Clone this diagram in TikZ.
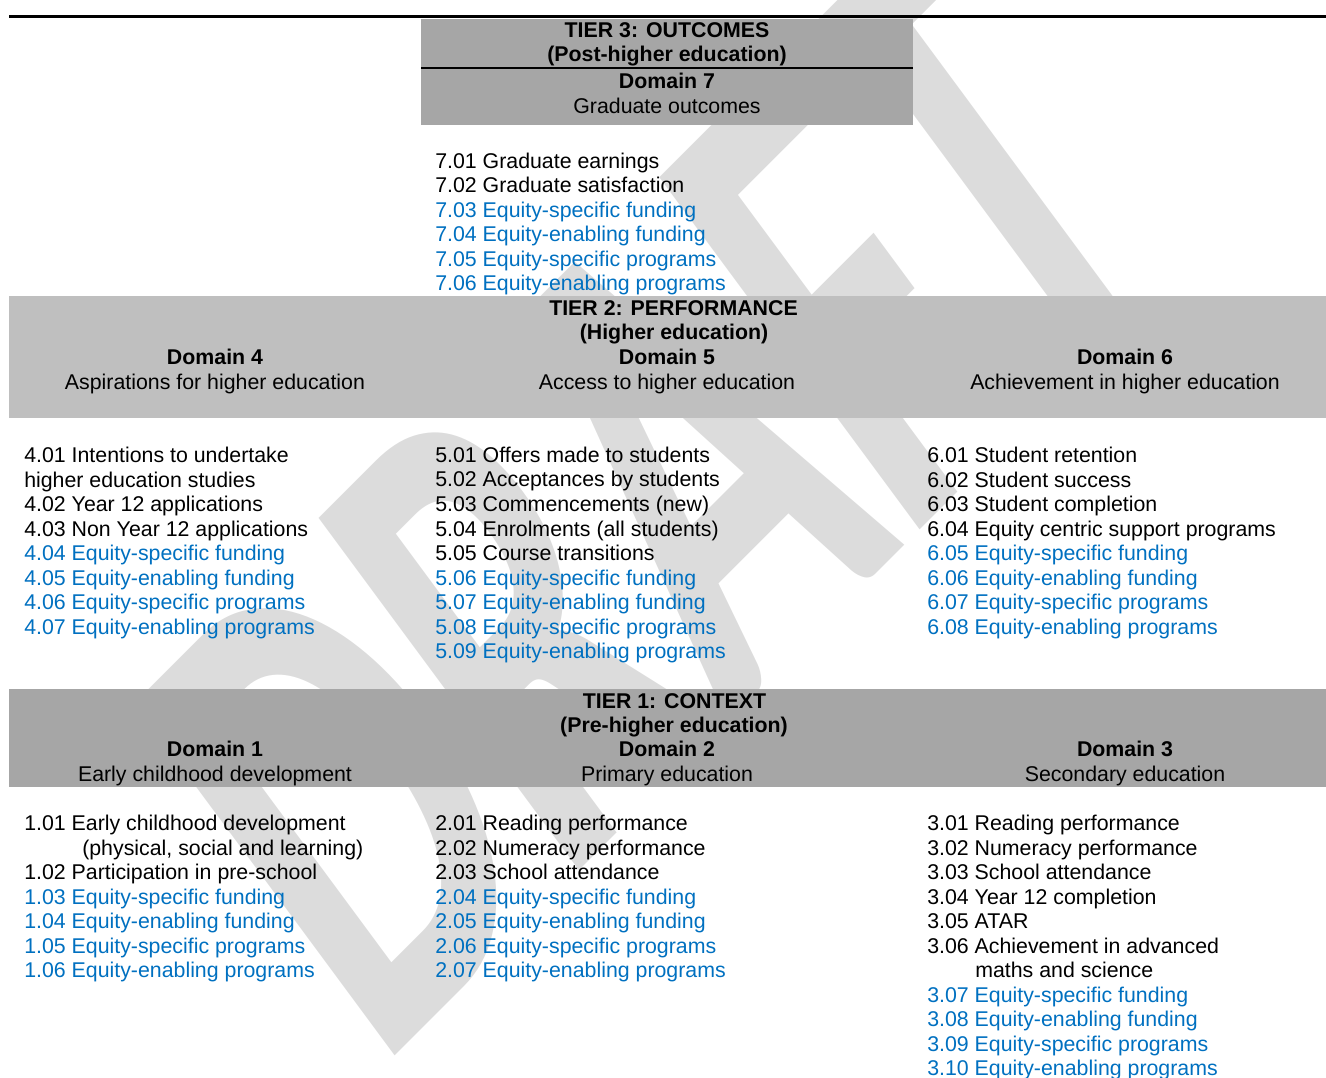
\documentclass[tikz,border=0pt]{standalone}
\usepackage{fontspec}
\setmainfont{Liberation Sans}
\newfontfamily\wmfont{Carlito}
\usetikzlibrary{positioning}
\definecolor{tierdark}{HTML}{A6A6A6}
\definecolor{tierlight}{HTML}{BFBFBF}
\definecolor{eqblue}{HTML}{0070C0}
\definecolor{wmgray}{HTML}{DCDCDC}
\tikzset{
tierbox/.style={fill=#1, draw=none},
tierhead/.style={font=\fontsize{16}{18.4}\selectfont\bfseries, anchor=base, inner sep=0pt},
domtitle/.style={align=center, anchor=base, inner sep=0pt},
itemlist/.style={align=left, anchor=base west, inner sep=0pt},
watermark/.style={text=wmgray, inner sep=0pt, font=\wmfont\bfseries\fontsize{501}{501}\selectfont},
}
\newcommand{\eqitem}[1]{\textcolor{eqblue}{#1}}

\begin{document}
\begin{tikzpicture}[x=0.75pt, y=-0.75pt, font=\fontsize{16}{18.4}\selectfont]
    \useasboundingbox (0,0) rectangle (1326,1077);
    % watermark behind everything
    \node[watermark, rotate=45, xslant=0.15, xscale=0.62] (draft) at (651,493) {DRAFT};

    % tier bands
    \fill[tierbox=tierdark] (421,19) rectangle (913,125);
    \fill[tierbox=tierlight] (9,296) rectangle (1326,418);
    \fill[tierbox=tierdark] (9,689) rectangle (1326,787);
    \draw[line width=2.25pt] (9,17) -- (1326,17);
    \draw[line width=2pt] (421,68) -- (913,68);

    % tier 3 (multi-line nodes sit on their last baseline)
    \node[tierhead] (t3) at (667,37.5) {TIER 3: OUTCOMES};
    \node[tierhead] (t3sub) at (667,61.5) {(Post-higher education)};
    \node[domtitle] (d7) at (667,113.5) {\textbf{Domain 7}\\Graduate outcomes};
    \node[itemlist] (l7) at (435,290.8) {7.01 Graduate earnings\\
        7.02 Graduate satisfaction\\
        \eqitem{7.03 Equity-specific funding}\\
        \eqitem{7.04 Equity-enabling funding}\\
        \eqitem{7.05 Equity-specific programs}\\
        \eqitem{7.06 Equity-enabling programs}};

    % tier 2
    \node[tierhead] (t2) at (673.5,315.5) {TIER 2: PERFORMANCE};
    \node[tierhead] (t2sub) at (674,339.5) {(Higher education)};
    \node[domtitle] (d4) at (215,389.5) {\textbf{Domain 4}\\Aspirations for higher education};
    \node[domtitle] (d5) at (667,389.5) {\textbf{Domain 5}\\Access to higher education};
    \node[domtitle] (d6) at (1125,389.5) {\textbf{Domain 6}\\Achievement in higher education};
    \node[itemlist] (l4) at (24,634.2) {4.01 Intentions to undertake\\
        higher education studies\\
        4.02 Year 12 applications\\
        4.03 Non Year 12 applications\\
        \eqitem{4.04 Equity-specific funding}\\
        \eqitem{4.05 Equity-enabling funding}\\
        \eqitem{4.06 Equity-specific programs}\\
        \eqitem{4.07 Equity-enabling programs}};
    \node[itemlist] (l5) at (435,658.7) {5.01 Offers made to students\\
        5.02 Acceptances by students\\
        5.03 Commencements (new)\\
        5.04 Enrolments (all students)\\
        5.05 Course transitions\\
        \eqitem{5.06 Equity-specific funding}\\
        \eqitem{5.07 Equity-enabling funding}\\
        \eqitem{5.08 Equity-specific programs}\\
        \eqitem{5.09 Equity-enabling programs}};
    \node[itemlist] (l6) at (927,634.2) {6.01 Student retention\\
        6.02 Student success\\
        6.03 Student completion\\
        6.04 Equity centric support programs\\
        \eqitem{6.05 Equity-specific funding}\\
        \eqitem{6.06 Equity-enabling funding}\\
        \eqitem{6.07 Equity-specific programs}\\
        \eqitem{6.08 Equity-enabling programs}};

    % tier 1
    \node[tierhead] (t1) at (674.5,708.5) {TIER 1: CONTEXT};
    \node[tierhead] (t1sub) at (674,732.5) {(Pre-higher education)};
    \node[domtitle] (d1) at (215,781.5) {\textbf{Domain 1}\\Early childhood development};
    \node[domtitle] (d2) at (667,781.5) {\textbf{Domain 2}\\Primary education};
    \node[domtitle] (d3) at (1125,781.5) {\textbf{Domain 3}\\Secondary education};
    \node[itemlist] (l1) at (24,977.7) {1.01 Early childhood development\\
        \hspace*{43.5pt}(physical, social and learning)\\
        1.02 Participation in pre-school\\
        \eqitem{1.03 Equity-specific funding}\\
        \eqitem{1.04 Equity-enabling funding}\\
        \eqitem{1.05 Equity-specific programs}\\
        \eqitem{1.06 Equity-enabling programs}};
    \node[itemlist] (l2) at (435,977.7) {2.01 Reading performance\\
        2.02 Numeracy performance\\
        2.03 School attendance\\
        \eqitem{2.04 Equity-specific funding}\\
        \eqitem{2.05 Equity-enabling funding}\\
        \eqitem{2.06 Equity-specific programs}\\
        \eqitem{2.07 Equity-enabling programs}};
    \node[itemlist] (l3) at (927,1075.8) {3.01 Reading performance\\
        3.02 Numeracy performance\\
        3.03 School attendance\\
        3.04 Year 12 completion\\
        3.05 ATAR\\
        3.06 Achievement in advanced\\
        \hspace*{36pt}maths and science\\
        \eqitem{3.07 Equity-specific funding}\\
        \eqitem{3.08 Equity-enabling funding}\\
        \eqitem{3.09 Equity-specific programs}\\
        \eqitem{3.10 Equity-enabling programs}};
\end{tikzpicture}
\end{document}
